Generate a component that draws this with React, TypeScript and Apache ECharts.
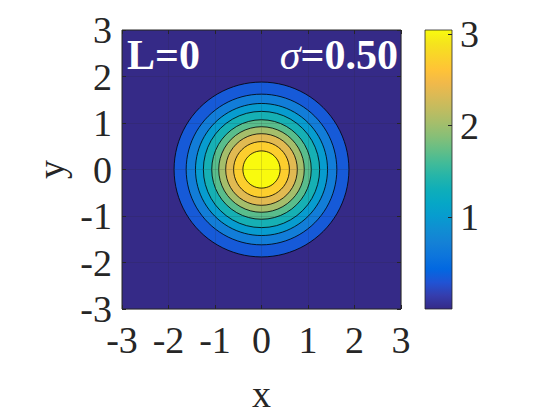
import React, { useEffect, useRef } from "react";
import * as echarts from "echarts";

// ---- data ----
const xTicks = [-3, -2, -1, 0, 1, 2, 3];
const axisMin = -3;
const axisMax = 3;
const contourCenter = [0, 0];
// radii (data units) of the contour lines, outermost first
const contourRadii = [1.88, 1.62, 1.42, 1.25, 1.07, 0.92, 0.77, 0.6, 0.4];
// level of the region inside each contour line
const contourLevels = [0.34, 0.68, 1.01, 1.35, 1.69, 2.03, 2.37, 2.71, 3.04];
const backgroundLevel = 0;
const colorbarMin = 0;
const colorbarMax = 3.044;
const colorbarTicks = [1, 2, 3];
const leftLabel = "L=0";
const sigmaValue = "0.50";

// parula colormap stops (style)
const parula = [
  "#352A87", "#353DAD", "#2053D4", "#0268E1", "#0D75DC", "#1481D6", "#108ED2",
  "#079CCF", "#06A7C6", "#0FAEB9", "#25B5A9", "#42BB98", "#65BE86", "#87BF77",
  "#A5BE6B", "#C0BC60", "#D9BA56", "#F1B94A", "#FFC337", "#FAD32A", "#F5E41D",
  "#F9FB0E",
];

function hexToRgb(h: string) {
  const n = parseInt(h.slice(1), 16);
  return [(n >> 16) & 255, (n >> 8) & 255, n & 255];
}
function colorAt(v: number) {
  let t = (v - colorbarMin) / (colorbarMax - colorbarMin);
  t = Math.max(0, Math.min(1, t));
  const p = t * (parula.length - 1);
  const i = Math.min(parula.length - 2, Math.floor(p));
  const f = p - i;
  const a = hexToRgb(parula[i]);
  const b = hexToRgb(parula[i + 1]);
  const c = a.map((x, k) => Math.round(x + (b[k] - x) * f));
  return `rgb(${c[0]},${c[1]},${c[2]})`;
}

const FONT = '"Liberation Serif", "Times New Roman", serif';
const AX = "#262626";
const TICK_FS = 38;

export default function App() {
  const ref = useRef<HTMLDivElement>(null);
  useEffect(() => {
    if (!ref.current) return;
    const chart = echarts.init(ref.current, undefined, { renderer: "svg" });
    const gradStops = parula.map((c, i) => ({ offset: i / (parula.length - 1), color: c }));
    const tick = { show: true, inside: true, length: 4, lineStyle: { color: AX, width: 1 } };
    const noLine = { show: false, onZero: false };
    const option: any = {
      animation: false,
      backgroundColor: "#ffffff",
      grid: [
        {
          left: 122, top: 30, width: 279, height: 279,
          show: true, backgroundColor: colorAt(backgroundLevel),
          borderColor: AX, borderWidth: 1,
        },
        { left: 425, top: 30, width: 27, height: 279, show: false },
      ],
      xAxis: [
        {
          type: "value", gridIndex: 0, min: axisMin, max: axisMax, interval: 1,
          position: "bottom", z: 10,
          axisLine: noLine,
          axisTick: tick,
          axisLabel: {
            fontFamily: FONT, fontSize: TICK_FS, color: AX, margin: 12,
            customValues: xTicks, formatter: (v: number) => String(v),
          },
          splitLine: { show: true, lineStyle: { color: "rgba(38,38,38,0.15)", width: 1 } },
          name: "x", nameLocation: "middle", nameGap: 66,
          nameTextStyle: { fontFamily: FONT, fontSize: TICK_FS, color: AX },
        },
        {
          type: "value", gridIndex: 0, min: axisMin, max: axisMax, interval: 1,
          position: "top", z: 10,
          axisLine: noLine,
          axisTick: tick,
          axisLabel: { show: false }, splitLine: { show: false },
        },
        { type: "value", gridIndex: 1, min: 0, max: 1, show: false, axisLine: noLine },
      ],
      yAxis: [
        {
          type: "value", gridIndex: 0, min: axisMin, max: axisMax, interval: 1,
          position: "left", z: 10,
          axisLine: noLine,
          axisTick: tick,
          axisLabel: {
            fontFamily: FONT, fontSize: TICK_FS, color: AX, margin: 10,
            customValues: xTicks, formatter: (v: number) => String(v),
          },
          splitLine: { show: true, lineStyle: { color: "rgba(38,38,38,0.15)", width: 1 } },
          name: "y", nameLocation: "middle", nameGap: 52,
          nameTextStyle: { fontFamily: FONT, fontSize: TICK_FS, color: AX },
        },
        {
          type: "value", gridIndex: 0, min: axisMin, max: axisMax, interval: 1,
          position: "right", z: 10,
          axisLine: noLine,
          axisTick: tick,
          axisLabel: { show: false }, splitLine: { show: false },
        },
        {
          type: "value", gridIndex: 1, min: colorbarMin, max: colorbarMax,
          position: "right", z: 10,
          axisLine: noLine,
          axisTick: { ...tick, customValues: colorbarTicks },
          axisLabel: {
            fontFamily: FONT, fontSize: TICK_FS, color: AX, margin: 8,
            customValues: colorbarTicks, formatter: (v: number) => String(v),
          },
          splitLine: { show: false },
        },
      ],
      series: [
        {
          type: "custom", xAxisIndex: 0, yAxisIndex: 0, clip: true,
          data: contourRadii.map((r, i) => [r, contourLevels[i]]),
          renderItem: (params: any, api: any) => {
            const r = api.value(0);
            const lev = api.value(1);
            const c = api.coord(contourCenter);
            const e = api.coord([contourCenter[0] + r, contourCenter[1]]);
            return {
              type: "circle",
              z2: params.dataIndex,
              shape: { cx: c[0], cy: c[1], r: e[0] - c[0] },
              style: { fill: colorAt(lev), stroke: "#000", lineWidth: 0.8 },
            };
          },
        },
        {
          type: "custom", xAxisIndex: 2, yAxisIndex: 2, clip: false,
          data: [[colorbarMin, colorbarMax]],
          renderItem: (params: any, api: any) => {
            const p0 = api.coord([0, api.value(0)]);
            const p1 = api.coord([1, api.value(1)]);
            return {
              type: "rect",
              shape: { x: p0[0], y: p1[1], width: p1[0] - p0[0], height: p0[1] - p1[1] },
              style: {
                fill: new echarts.graphic.LinearGradient(0, 1, 0, 0, gradStops),
                stroke: AX, lineWidth: 0.8,
              },
            };
          },
        },
      ],
      graphic: [
        {
          type: "text", x: 127, y: 55, z: 100,
          style: {
            text: leftLabel, fill: "#ffffff", fontFamily: FONT, fontSize: 42,
            fontWeight: "bold", align: "left", verticalAlign: "middle",
          },
        },
        {
          type: "text", x: 398, y: 55, z: 100,
          style: {
            text: `{s|σ}{b|=${sigmaValue}}`, fill: "#ffffff", align: "right", verticalAlign: "middle",
            rich: {
              s: { fontFamily: FONT, fontSize: 42, fontStyle: "italic", fill: "#ffffff", color: "#ffffff" },
              b: { fontFamily: FONT, fontSize: 42, fontWeight: "bold", fill: "#ffffff", color: "#ffffff" },
            },
          },
        },
      ],
    };
    chart.setOption(option);
    return () => chart.dispose();
  }, []);
  return (
    <div
      ref={ref}
      style={{ position: "absolute", left: 0, top: 0, width: 560, height: 420 }}
    />
  );
}
